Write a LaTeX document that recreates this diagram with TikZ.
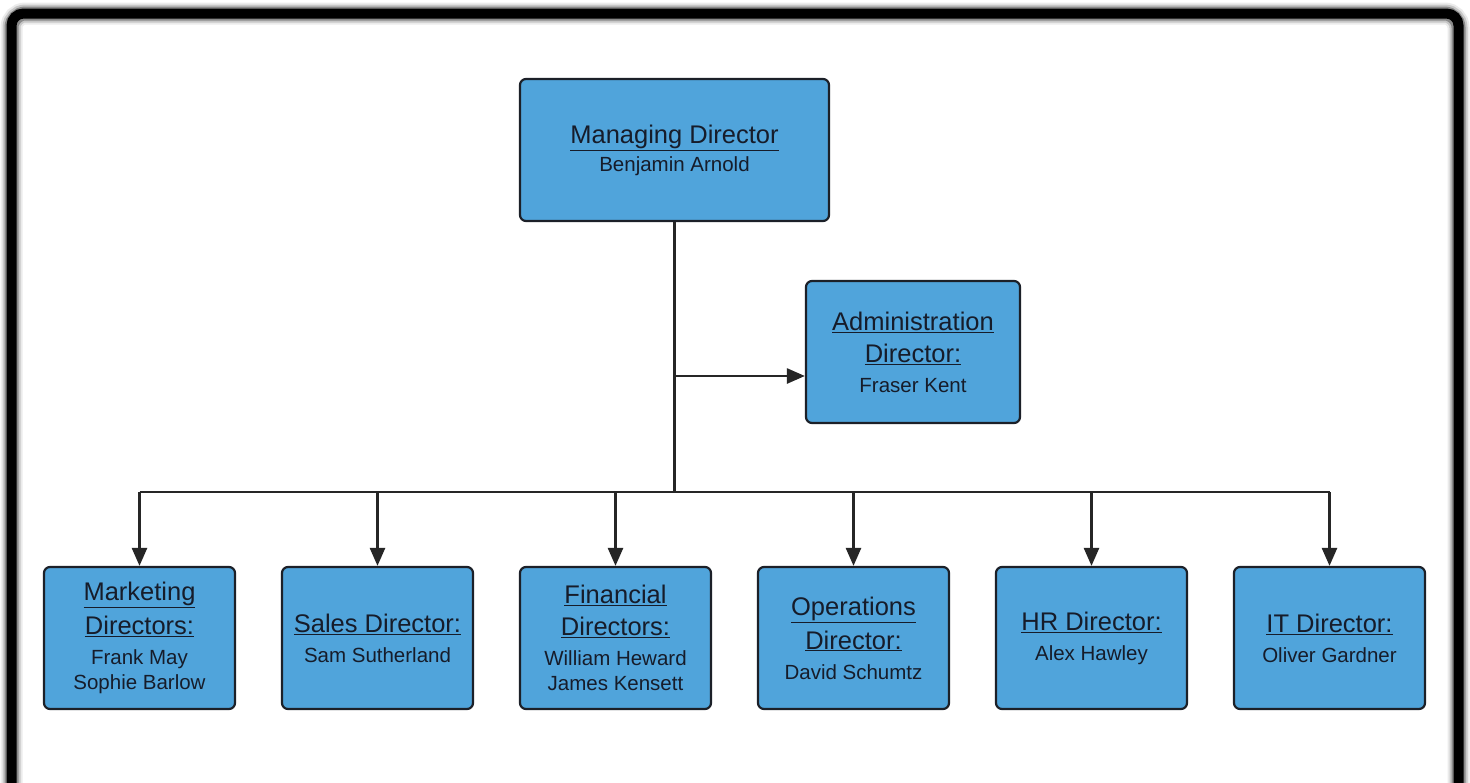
\documentclass[tikz,border=0pt]{standalone}
\usepackage{fontspec}
\setmainfont{Liberation Sans}
\usetikzlibrary{arrows.meta}
\definecolor{boxblue}{RGB}{80,164,219}
\definecolor{boxline}{RGB}{28,32,40}
\definecolor{txt}{RGB}{22,28,42}
\newcommand{\ttl}[1]{{\fontsize{25.5}{25}\selectfont\underline{#1}}}
\tikzset{
  orgbox/.style={draw=boxline, line width=2.2pt, fill=boxblue, rounded corners=6pt,
    text=txt, align=center, inner sep=0pt,
    font=\fontsize{20.5}{25}\selectfont},
  wide/.style={minimum width=309pt, minimum height=142pt},
  mid/.style={minimum width=214pt, minimum height=142pt},
  small/.style={minimum width=191pt, minimum height=142pt},
  conn/.style={draw=black!85, line width=2.6pt},
  arr/.style={conn, -{Triangle[length=18pt,width=15pt]}}
}
\begin{document}
\begin{tikzpicture}[x=1pt,y=-1pt]
\useasboundingbox (0,0) rectangle (1470,782);
\fill[white] (0,0) rectangle (1470,782);
\begin{scope}
\clip (0,0) rectangle (1470,782);
% frame with blurred shadow
\draw[black, opacity=0.08, line width=22pt, rounded corners=14pt] (11.5,13.5) rectangle (1458.5,830);
\draw[black, opacity=0.15, line width=18pt, rounded corners=14pt] (11.5,13.5) rectangle (1458.5,830);
\draw[black, opacity=0.3, line width=14pt, rounded corners=14pt] (11.5,13.5) rectangle (1458.5,830);
\draw[black, line width=10pt, rounded corners=12pt] (11.5,13.5) rectangle (1458.5,830);
\end{scope}

\node[orgbox, wide] (md) at (674.5,150) {\ttl{Managing Director}\\[3pt] Benjamin Arnold};
\node[orgbox, mid] (adm) at (913,352) {\ttl{Administration}\\[7pt] \ttl{Director:}\\[5pt] Fraser Kent};

\node[orgbox, small] (mkt) at (139.5,638) {\ttl{Marketing}\\[7pt] \ttl{Directors:}\\[5pt] Frank May\\ Sophie Barlow};
\node[orgbox, small] (sal) at (377.5,638) {\ttl{Sales Director:}\\[5pt] Sam Sutherland};
\node[orgbox, small] (fin) at (615.5,638) {\ttl{Financial}\\[7pt] \ttl{Directors:}\\[5pt] William Heward\\ James Kensett};
\node[orgbox, small] (ops) at (853.5,638) {\ttl{Operations}\\[7pt] \ttl{Director:}\\[5pt] David Schumtz};
\node[orgbox, small] (hr) at (1091.5,638) {\ttl{HR Director:}\\[5pt] Alex Hawley};
\node[orgbox, small] (it) at (1329.5,638) {\ttl{IT Director:}\\[5pt] Oliver Gardner};

\coordinate (ja) at (674.5,376);
\coordinate (jb) at (674.5,492);

\draw[conn] (md.south) -- (jb);
\draw[arr] (ja) -- (ja -| adm.west);
\draw[conn] (mkt.north |- jb) -- (it.north |- jb);
\foreach \b in {mkt,sal,fin,ops,hr,it}{
  \draw[arr] (\b.north |- jb) -- (\b.north);
}
\end{tikzpicture}
\end{document}
